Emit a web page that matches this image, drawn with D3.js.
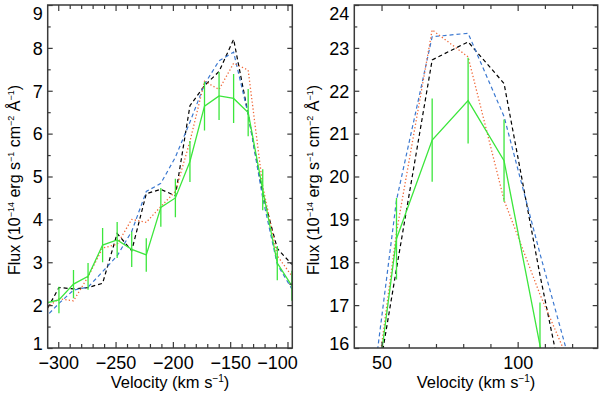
<!DOCTYPE html>
<html><head><meta charset="utf-8">
<script src="https://cdn.jsdelivr.net/npm/d3@7"></script>
<style>
body{margin:0;background:#fff}
svg{display:block}
text{font-family:"Liberation Sans",Arial,Helvetica,sans-serif;fill:#000}
</style>
</head><body>
<svg id="c" width="600" height="395"></svg>
<script>
// ---- Left panel data (velocity in km/s, flux in 1e-14 erg/s/cm2/A) ----
const leftVelocity = [-312.1, -299.4, -286.7, -274.0, -261.3, -248.6, -235.9, -223.2, -210.5, -197.8, -185.1, -172.4, -159.7, -147.0, -134.3, -121.6, -108.9, -96.2];
const leftObserved = [2.04, 2.12, 2.49, 2.67, 3.40, 3.52, 3.30, 3.17, 4.28, 4.50, 5.35, 6.64, 6.88, 6.82, 6.49, 4.69, 2.98, 2.45];
const leftError    = [0.30, 0.31, 0.33, 0.31, 0.40, 0.42, 0.41, 0.39, 0.45, 0.45, 0.48, 0.57, 0.56, 0.57, 0.55, 0.48, 0.40, 0.35];
const leftBlack    = [1.79, 2.41, 2.38, 2.41, 2.51, 3.67, 3.27, 4.60, 4.70, 4.55, 6.65, 7.12, 7.45, 8.20, 6.45, 4.60, 3.32, 2.95];
const leftBlue     = [1.69, 2.04, 2.35, 2.42, 2.78, 3.15, 3.72, 4.65, 4.84, 5.45, 6.27, 7.15, 7.70, 7.90, 6.45, 4.50, 2.95, 2.38];
const leftOrange   = [1.90, 2.15, 2.10, 2.66, 3.33, 3.42, 4.00, 3.93, 4.30, 4.65, 5.82, 7.22, 7.03, 7.64, 7.48, 4.78, 3.15, 2.68];
const leftXTicks = [-300, -250, -200, -150, -100];
const leftYTicks = [1, 2, 3, 4, 5, 6, 7, 8, 9];

// ---- Right panel data ----
const rightVelocity = [42.4, 55.5, 68.6, 81.8, 95.0, 108.2, 121.4];
const rightObserved = [12.2, 18.55, 20.85, 21.77, 20.37, 16.06, 11.8];
const rightError    = [0.95, 0.95, 0.97, 1.00, 0.96, 1.00, 1.00];
const rightBlack    = [12.9, 17.85, 22.72, 23.14, 22.17, 17.70, 13.6];
const rightBlue     = [12.87, 19.45, 23.26, 23.34, 21.40, 18.20, 15.15];
const rightOrange   = [12.4, 18.70, 23.42, 22.79, 19.45, 17.25, 15.3];
const rightXTicks = [50, 100];
const rightYTicks = [16, 17, 18, 19, 20, 21, 22, 23, 24];

const svg = d3.select("#c");
const TOP = 5, BOTTOM = 348;
const FRAME = "#3a3a3a";
const FONT = '"Liberation Sans",Arial,Helvetica,sans-serif';

// parts: [text, isSuperscript]
function addSupText(t, parts, supSize, lift) {
  let raised = false;
  parts.forEach(p => {
    const s = t.append("tspan").text(p[0]);
    if (p[1]) {
      s.attr("font-size", supSize).attr("dy", -lift);
      raised = true;
    } else if (raised) {
      s.attr("dy", lift);
      raised = false;
    }
  });
}

function drawPanel(cfg, idx) {
  const x = d3.scaleLinear().domain(cfg.xDomain).range([cfg.x0, cfg.x1]);
  const yMin = cfg.yTicks[0], yMax = cfg.yTicks[cfg.yTicks.length - 1];
  const y = d3.scaleLinear().domain([yMin, yMax]).range([BOTTOM, TOP]);
  const g = svg.append("g");
  const cid = "clip" + idx;
  g.append("clipPath").attr("id", cid).append("rect")
    .attr("x", cfg.x0).attr("y", TOP).attr("width", cfg.x1 - cfg.x0).attr("height", BOTTOM - TOP);
  const plot = g.append("g").attr("clip-path", `url(#${cid})`);
  const line = d3.line().x((d, i) => x(cfg.v[i])).y(d => y(d));

  plot.append("path").attr("d", line(cfg.black)).attr("fill", "none")
    .attr("stroke", "#000").attr("stroke-width", 1.2).attr("stroke-dasharray", "4,3");
  plot.append("path").attr("d", line(cfg.blue)).attr("fill", "none")
    .attr("stroke", "#3b78d0").attr("stroke-width", 1.2).attr("stroke-dasharray", "4,3");
  plot.append("path").attr("d", line(cfg.orange)).attr("fill", "none")
    .attr("stroke", "#f0693a").attr("stroke-width", 1.3).attr("stroke-dasharray", "1.3,2.2");
  plot.append("path").attr("d", line(cfg.obs)).attr("fill", "none")
    .attr("stroke", "#3ce63c").attr("stroke-width", 1.3);
  plot.selectAll("line.err").data(cfg.obs).join("line").attr("class", "err")
    .attr("x1", (d, i) => x(cfg.v[i])).attr("x2", (d, i) => x(cfg.v[i]))
    .attr("y1", (d, i) => y(d - cfg.err[i])).attr("y2", (d, i) => y(d + cfg.err[i]))
    .attr("stroke", "#3ce63c").attr("stroke-width", 1.3);

  const xMinor = d3.range(Math.ceil(cfg.xDomain[0] / 10) * 10, cfg.xDomain[1], 10)
    .filter(v => !cfg.xTicks.includes(v) && x(v) > cfg.x0 + 1 && x(v) < cfg.x1 - 1);
  const yMinor = cfg.yTicks.slice(0, -1).map(v => v + 0.5);

  const styleAxis = a => {
    a.attr("font-size", 18).attr("font-family", FONT);
    a.select(".domain").remove();
    a.selectAll("line").attr("stroke", FRAME).attr("stroke-width", 1.2);
    a.selectAll("text").attr("font-size", 18).attr("font-family", FONT).attr("fill", "#000");
  };
  g.append("g").attr("transform", `translate(0,${BOTTOM})`)
    .call(d3.axisBottom(x).tickValues(cfg.xTicks).tickSizeInner(-6).tickSizeOuter(0).tickPadding(8).tickFormat(d3.format("d")))
    .call(styleAxis)
    .call(a => a.selectAll("text").each(function(d) {
      // keep a label from spilling far past the right edge of the frame (as in the reference)
      const w = this.getComputedTextLength();
      const over = x(d) + w / 2 - (cfg.x1 + 5);
      if (over > 0) d3.select(this).attr("x", -over);
    }));
  g.append("g").attr("transform", `translate(0,${BOTTOM})`)
    .call(d3.axisBottom(x).tickValues(xMinor).tickSizeInner(-4).tickSizeOuter(0).tickFormat(""))
    .call(styleAxis);
  g.append("g").attr("transform", `translate(0,${TOP})`)
    .call(d3.axisTop(x).tickValues(cfg.xTicks).tickSizeInner(-6).tickSizeOuter(0).tickFormat(""))
    .call(styleAxis);
  g.append("g").attr("transform", `translate(0,${TOP})`)
    .call(d3.axisTop(x).tickValues(xMinor).tickSizeInner(-4).tickSizeOuter(0).tickFormat(""))
    .call(styleAxis);
  g.append("g").attr("transform", `translate(${cfg.x0},0)`)
    .call(d3.axisLeft(y).tickValues(cfg.yTicks).tickSizeInner(-5).tickSizeOuter(0).tickPadding(5).tickFormat(d3.format("d")))
    .call(styleAxis)
    .call(a => a.selectAll("text").attr("dy", d => d === yMax ? "0.78em" : (d === yMin ? "0.1em" : "0.35em")));
  g.append("g").attr("transform", `translate(${cfg.x0},0)`)
    .call(d3.axisLeft(y).tickValues(yMinor).tickSizeInner(-3).tickSizeOuter(0).tickFormat(""))
    .call(styleAxis);
  g.append("g").attr("transform", `translate(${cfg.x1},0)`)
    .call(d3.axisRight(y).tickValues(cfg.yTicks).tickSizeInner(-5).tickSizeOuter(0).tickFormat(""))
    .call(styleAxis);
  g.append("g").attr("transform", `translate(${cfg.x1},0)`)
    .call(d3.axisRight(y).tickValues(yMinor).tickSizeInner(-3).tickSizeOuter(0).tickFormat(""))
    .call(styleAxis);

  g.append("rect").attr("x", cfg.x0).attr("y", TOP).attr("width", cfg.x1 - cfg.x0).attr("height", BOTTOM - TOP)
    .attr("fill", "none").attr("stroke", FRAME).attr("stroke-width", 1.5);

  const xt = g.append("text").attr("x", (cfg.x0 + cfg.x1) / 2).attr("y", 388)
    .attr("text-anchor", "middle").attr("font-size", 16.5);
  addSupText(xt, [["Velocity (km s", 0], ["\u22121", 1], [")", 0]], 10, 6);
  const yt = g.append("text").attr("transform", `translate(${cfg.ylabX},180) rotate(-90)`)
    .attr("text-anchor", "middle").attr("font-size", 16);
  addSupText(yt, [["Flux (10", 0], ["\u221214", 1], [" erg s", 0], ["\u22121", 1], [" cm", 0], ["\u22122", 1], [" \u00C5", 0], ["\u22121", 1], [")", 0]], 9, 6);
}

drawPanel({
  v: leftVelocity, obs: leftObserved, err: leftError, black: leftBlack, blue: leftBlue, orange: leftOrange,
  xTicks: leftXTicks, yTicks: leftYTicks, xDomain: [-309.2, -95.8], x0: 47.7, x1: 292.3, ylabX: 20
}, 0);
drawPanel({
  v: rightVelocity, obs: rightObserved, err: rightError, black: rightBlack, blue: rightBlue, orange: rightOrange,
  xTicks: rightXTicks, yTicks: rightYTicks, xDomain: [40, 129.4], x0: 354.3, x1: 597.7, ylabX: 319
}, 1);
</script>
</body></html>
